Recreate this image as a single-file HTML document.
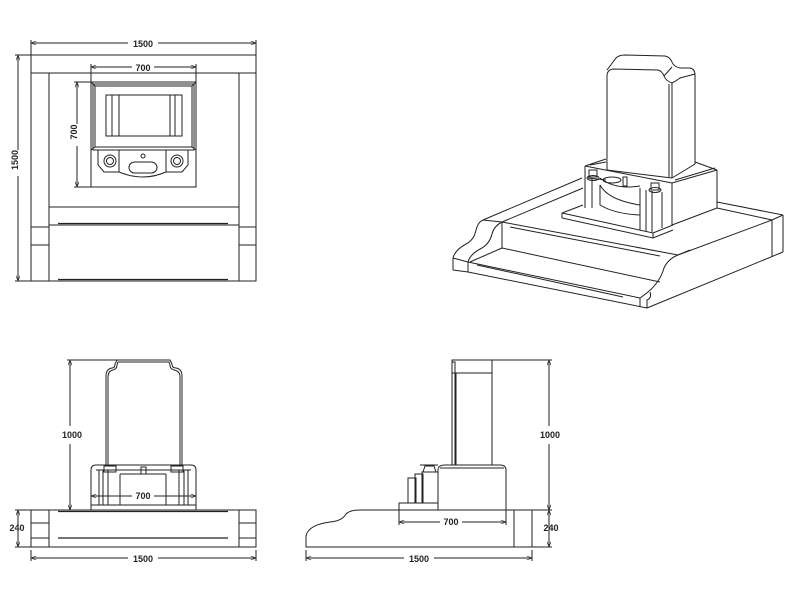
<!DOCTYPE html>
<html><head><meta charset="utf-8"><style>
html,body{margin:0;padding:0;background:#fff;width:800px;height:600px;overflow:hidden}
svg{display:block}
text{font-family:"Liberation Sans",sans-serif;font-size:9px;font-weight:bold;fill:#222}
</style></head><body>
<svg width="800" height="600" viewBox="0 0 800 600" xmlns="http://www.w3.org/2000/svg">
<defs><marker id="a" viewBox="0 0 8 6" refX="8" refY="3" markerWidth="6" markerHeight="4" orient="auto-start-reverse"><path d="M0,0L8,3L0,6" fill="none" stroke="#222"/></marker></defs>
<g fill="none" stroke="#222" stroke-width="1">
<!-- TOP VIEW -->
<rect x="31" y="55" width="225" height="226"/>
<line x1="31" y1="73" x2="256" y2="73"/>
<line x1="49" y1="73" x2="49" y2="281"/><line x1="239" y1="73" x2="239" y2="281"/>
<line x1="49" y1="207" x2="239" y2="207"/>
<line x1="49" y1="225" x2="239" y2="225"/>
<line x1="58" y1="223.5" x2="228" y2="223.5" stroke-width="1.2"/>
<line x1="58" y1="279.5" x2="228" y2="279.5" stroke-width="1.2"/>
<line x1="31" y1="227" x2="49" y2="227"/><line x1="31" y1="245" x2="49" y2="245"/>
<line x1="239" y1="227" x2="256" y2="227"/><line x1="239" y1="245" x2="256" y2="245"/>
<rect x="91" y="82" width="105" height="105"/>
<rect x="93" y="84" width="101" height="66"/>
<rect x="95" y="86" width="97" height="61"/>
<line x1="91" y1="82" x2="95" y2="86"/><line x1="196" y1="82" x2="192" y2="86"/><line x1="91" y1="150" x2="95" y2="147"/><line x1="196" y1="150" x2="192" y2="147"/>
<rect x="106" y="95" width="76" height="41"/>
<line x1="112" y1="95" x2="112" y2="136"/><line x1="119" y1="95" x2="119" y2="136"/>
<line x1="170" y1="95" x2="170" y2="136"/><line x1="175" y1="95" x2="175" y2="136"/>
<path d="M98,150 V165 L104,172 H119 Q143,182 166,172 H182 L188,165 V150"/>
<line x1="119" y1="150" x2="119" y2="172"/><line x1="166" y1="150" x2="166" y2="172"/>
<circle cx="110" cy="161" r="6"/><circle cx="110" cy="161" r="3.5"/>
<circle cx="177" cy="161" r="6"/><circle cx="177" cy="161" r="3.5"/>
<circle cx="143" cy="156" r="2"/>
<rect x="129" y="162" width="28" height="11" rx="5.5"/>
<line x1="31" y1="40" x2="31" y2="55"/><line x1="256" y1="40" x2="256" y2="55"/>
<line x1="31" y1="43" x2="128" y2="43" marker-start="url(#a)"/><line x1="158" y1="43" x2="256" y2="43" marker-end="url(#a)"/>
<line x1="15" y1="55" x2="31" y2="55"/><line x1="15" y1="281" x2="31" y2="281"/>
<line x1="18" y1="55" x2="18" y2="150" marker-start="url(#a)"/><line x1="18" y1="176" x2="18" y2="281" marker-end="url(#a)"/>
<line x1="91" y1="64" x2="91" y2="82"/><line x1="196" y1="64" x2="196" y2="82"/>
<line x1="91" y1="67" x2="132" y2="67" marker-start="url(#a)"/><line x1="154" y1="67" x2="196" y2="67" marker-end="url(#a)"/>
<line x1="74" y1="82" x2="91" y2="82"/><line x1="74" y1="187" x2="91" y2="187"/>
<line x1="77" y1="82" x2="77" y2="124" marker-start="url(#a)"/><line x1="77" y1="146" x2="77" y2="187" marker-end="url(#a)"/>

<!-- FRONT VIEW -->
<rect x="31" y="510" width="225" height="37"/>
<line x1="49" y1="510" x2="49" y2="547"/><line x1="239" y1="510" x2="239" y2="547"/>
<line x1="31" y1="523" x2="49" y2="523"/><line x1="31" y1="538" x2="49" y2="538"/>
<line x1="239" y1="523" x2="256" y2="523"/><line x1="239" y1="538" x2="256" y2="538"/>
<line x1="58" y1="511.5" x2="228" y2="511.5" stroke-width="1.2"/>
<line x1="58" y1="538" x2="228" y2="538" stroke-width="1.2"/>
<path d="M91,510 V470 Q91,465 96,465 H191 Q196,465 196,470 V510"/>
<line x1="91" y1="505" x2="196" y2="505"/>
<line x1="96" y1="470" x2="191" y2="470"/>
<line x1="99" y1="470" x2="99" y2="505"/><line x1="103" y1="470" x2="103" y2="505"/><line x1="108" y1="470" x2="108" y2="505"/><line x1="120" y1="474" x2="120" y2="505"/>
<line x1="188" y1="470" x2="188" y2="505"/><line x1="184" y1="470" x2="184" y2="505"/><line x1="179" y1="470" x2="179" y2="505"/><line x1="166" y1="474" x2="166" y2="505"/>
<line x1="120" y1="474" x2="166" y2="474"/>
<rect x="141" y="467" width="5" height="7"/>
<path d="M106,465 V376 Q106,369 112,368 Q115,368 115,364 L117,360 H170 L172,364 Q172,368 176,368 Q182,369 182,376 V465"/>
<path d="M108,465 V377 Q108,371 113,370 Q117,369 117,365 L118,362 H169 L170,365 Q170,369 174,370 Q180,371 180,377 V465"/>
<rect x="104" y="466" width="12" height="6"/><rect x="171" y="466" width="12" height="6"/>
<line x1="67" y1="360" x2="117" y2="360"/>
<line x1="70" y1="360" x2="70" y2="426" marker-start="url(#a)"/><line x1="70" y1="444" x2="70" y2="510" marker-end="url(#a)"/>
<line x1="91" y1="496" x2="132" y2="496" marker-start="url(#a)"/><line x1="154" y1="496" x2="196" y2="496" marker-end="url(#a)"/>
<line x1="15" y1="510" x2="31" y2="510"/><line x1="15" y1="547" x2="31" y2="547"/>
<line x1="18" y1="510" x2="18" y2="547" marker-start="url(#a)" marker-end="url(#a)"/>
<line x1="31" y1="550" x2="31" y2="561"/><line x1="256" y1="550" x2="256" y2="561"/>
<line x1="31" y1="558" x2="128" y2="558" marker-start="url(#a)"/><line x1="158" y1="558" x2="256" y2="558" marker-end="url(#a)"/>

<!-- SIDE VIEW -->
<path d="M306,547 V536 Q308,525 330,522 Q342,521 346,514 Q350,510 360,510 H532 V547 Z"/>
<line x1="514" y1="510" x2="514" y2="547"/>
<rect x="399" y="503" width="39" height="7"/>
<path d="M438,510 V470 Q438,465 445,465 H500 Q506,465 506,470 V510"/>
<line x1="440" y1="468" x2="504" y2="468"/>
<rect x="452" y="360" width="40" height="105"/>
<line x1="452" y1="373" x2="492" y2="373"/>
<rect x="452" y="362" width="3" height="103"/>
<line x1="456" y1="373" x2="456" y2="465"/>
<rect x="408" y="478" width="8" height="25"/><rect x="415" y="474" width="8" height="29"/><rect x="422" y="472" width="16" height="31"/>
<path d="M423,472 L425,466 H434 L436,472"/><path d="M420,465 H438"/>
<line x1="492" y1="360" x2="552" y2="360"/><line x1="532" y1="510" x2="552" y2="510"/><line x1="532" y1="547" x2="552" y2="547"/>
<line x1="549" y1="360" x2="549" y2="426" marker-start="url(#a)"/><line x1="549" y1="444" x2="549" y2="510" marker-end="url(#a)"/>
<line x1="549" y1="510" x2="549" y2="547" marker-start="url(#a)" marker-end="url(#a)"/>
<line x1="399" y1="510" x2="399" y2="525"/><line x1="506" y1="510" x2="506" y2="525"/>
<line x1="399" y1="522" x2="440" y2="522" marker-start="url(#a)"/><line x1="462" y1="522" x2="506" y2="522" marker-end="url(#a)"/>
<line x1="306" y1="550" x2="306" y2="561"/><line x1="532" y1="550" x2="532" y2="561"/>
<line x1="306" y1="558" x2="404" y2="558" marker-start="url(#a)"/><line x1="434" y1="558" x2="532" y2="558" marker-end="url(#a)"/>

<!-- ISO VIEW -->
<!-- big base back edges -->
<line x1="483" y1="220" x2="582" y2="178"/>
<line x1="502" y1="222" x2="583" y2="188"/>
<line x1="717" y1="202" x2="783" y2="215"/>
<line x1="717" y1="208" x2="772" y2="220"/>
<!-- right face -->
<line x1="783" y1="215" x2="783" y2="252"/>
<line x1="772" y1="220" x2="772" y2="257"/>
<line x1="783" y1="252" x2="647" y2="308"/>
<!-- front right top edge + curves -->
<path d="M772,220 L678,255 Q668,259 664,268 Q660,282 648,292 Q643,296 640,298"/>
<path d="M783,215 L772,220"/>
<path d="M678,255 L690,250"/>
<path d="M640,298 V306"/>
<path d="M650,292 Q652,298 647,300 V308"/>
<!-- left curves -->
<path d="M483,220 Q478,222 476,230 Q474,240 466,244 Q455,250 453,258 V270"/>
<path d="M502,222 Q494,226 492,234 Q490,243 482,248 Q470,254 468,262 V272"/>
<line x1="483" y1="220" x2="502" y2="222"/>
<line x1="453" y1="258" x2="468" y2="262"/>
<line x1="453" y1="270" x2="468" y2="272"/>
<!-- step -->
<line x1="502" y1="222" x2="678" y2="255"/>
<line x1="510" y1="227" x2="660" y2="256"/>
<line x1="502" y1="222" x2="502" y2="248"/>
<line x1="502" y1="248" x2="470" y2="262"/>
<line x1="502" y1="248" x2="660" y2="282"/>
<line x1="468" y1="262" x2="640" y2="298"/>
<line x1="477" y1="265" x2="623" y2="297"/>
<line x1="468" y1="272" x2="647" y2="308"/>
<!-- plinth -->
<path d="M562,213 L583,205"/>
<path d="M562,213 V218 L653,238 L673,230"/>
<path d="M562,213 L653,233 L673,225"/>
<line x1="653" y1="233" x2="653" y2="238"/>
<!-- upper base -->
<line x1="585" y1="166" x2="585" y2="208"/>
<line x1="585" y1="166" x2="672" y2="183"/>
<line x1="672" y1="183" x2="672" y2="225"/>
<line x1="672" y1="183" x2="717" y2="170"/>
<line x1="717" y1="170" x2="717" y2="208"/>
<line x1="672" y1="225" x2="717" y2="208"/>
<line x1="675" y1="180" x2="715" y2="168"/>
<path d="M585,166 L606,159 M695,162 L717,170"/>
<line x1="590" y1="165" x2="606" y2="162"/>
<path d="M588,178 L606,180 M600,178 Q615,190 640,186"/>
<path d="M600,185 Q608,200 640,205 M600,185 V205 Q615,214 640,215"/>
<path d="M640,188 V230 M646,190 V231 M652,191 V232 M662,192 V228"/>
<path d="M592,178 V208"/>
<ellipse cx="612" cy="180" rx="9" ry="3"/>
<rect x="623" y="177" width="4" height="9"/>
<ellipse cx="593" cy="178" rx="6" ry="2.5"/><rect x="589" y="170" width="8" height="7"/>
<ellipse cx="655" cy="190" rx="6" ry="2.5"/><rect x="651" y="183" width="8" height="7"/>
<!-- tablet -->
<path d="M607,170 V76 Q607,70 613,69 L658,70 Q662,71 664,76 Q666,81 672,83 V178"/>
<line x1="607" y1="170" x2="672" y2="178"/>
<path d="M607,70 L616,58 Q619,55 625,55 L665,56 Q670,57 672,62 Q674,67 680,68 L690,68 Q695,69 695,75 V164 L672,178"/>
<path d="M672,83 Q676,81 680,78 L695,74"/>
<path d="M664,76 L672,67"/>
<line x1="669" y1="84" x2="669" y2="177"/>
</g>
<text x="143" y="47" text-anchor="middle">1500</text>
<text x="143" y="71" text-anchor="middle">700</text>
<text x="21" y="163" text-anchor="middle" transform="rotate(-90 18 163)">1500</text>
<text x="80" y="135" text-anchor="middle" transform="rotate(-90 77 135)">700</text>
<text x="72" y="438" text-anchor="middle">1000</text>
<text x="143" y="499" text-anchor="middle">700</text>
<text x="17" y="531" text-anchor="middle">240</text>
<text x="143" y="562" text-anchor="middle">1500</text>
<text x="550" y="438" text-anchor="middle">1000</text>
<text x="451" y="525" text-anchor="middle">700</text>
<text x="551" y="531" text-anchor="middle">240</text>
<text x="419" y="562" text-anchor="middle">1500</text>
</svg>
</body></html>
